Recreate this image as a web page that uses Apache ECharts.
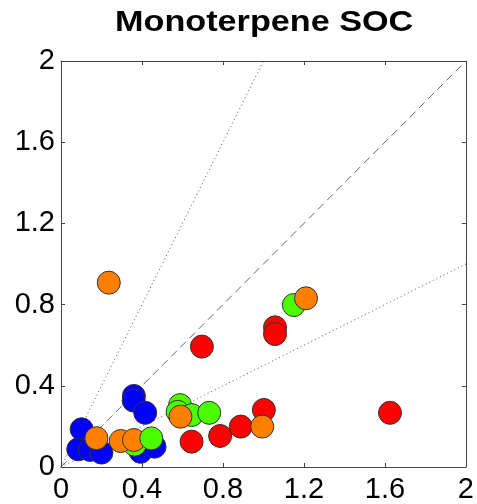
<!DOCTYPE html>
<html><head><meta charset="utf-8">
<script src="https://cdn.jsdelivr.net/npm/echarts@6/dist/echarts.min.js"></script>
<style>html,body{margin:0;padding:0;background:#fff}#c{width:477px;height:504px}</style>
</head><body><div id="c"></div>
<script>
const titleText = "Monoterpene SOC";
const xTicks = [0, 0.4, 0.8, 1.2, 1.6, 2];
const yTicks = [0, 0.4, 0.8, 1.2, 1.6, 2];
const blueX = [0.360, 0.359, 0.416, 0.102, 0.085, 0.143, 0.200, 0.393, 0.462];
const blueY = [0.350, 0.327, 0.267, 0.186, 0.087, 0.084, 0.071, 0.075, 0.100];
const redX = [0.696, 1.057, 1.057, 0.645, 0.786, 0.888, 1.002, 1.625];
const redY = [0.593, 0.688, 0.655, 0.125, 0.153, 0.199, 0.281, 0.267];
const greenX = [1.150, 0.588, 0.576, 0.645, 0.732, 0.364];
const greenY = [0.798, 0.305, 0.272, 0.256, 0.267, 0.110];
const orangeX = [0.236, 1.210, 0.590, 0.175, 0.295, 0.360, 0.994];
const orangeY = [0.908, 0.831, 0.248, 0.142, 0.128, 0.133, 0.199];
const greenLateX = [0.446];
const greenLateY = [0.141];
const oneToOne = [[0, 0], [2, 2]];
const twoToOne = [[0, 0], [1, 2]];
const halfToOne = [[0, 0], [2, 1]];

const zip = (a, b) => a.map((v, i) => [v, b[i]]);
const chart = echarts.init(document.getElementById('c'));
const font = "'Liberation Sans', Arial, sans-serif";
const axisCommon = {
  type: 'value', min: 0, max: 2, interval: 0.4,
  axisLine: { show: true, onZero: false, lineStyle: { color: '#444', width: 1 } },
  axisTick: { show: true, inside: true, length: 4, lineStyle: { color: '#444' } },
  splitLine: { show: false }
};
function scat(xs, ys, color) {
  return {
    type: 'scatter', data: zip(xs, ys), symbolSize: 23,
    itemStyle: { color: color, borderColor: '#333', borderWidth: 1, opacity: 1 },
    xAxisIndex: 0, yAxisIndex: 0, silent: true, z: 3
  };
}
function ln(data, type, color) {
  return {
    type: 'line', data: data, symbol: 'none', silent: true, z: 2,
    lineStyle: { color: color, width: 1, type: type === 'dashed' ? [8, 5] : [1, 3] },
    xAxisIndex: 0, yAxisIndex: 0
  };
}
const lbl = { fontFamily: font, fontSize: 29, color: '#000' };
chart.setOption({
  animation: false,
  backgroundColor: '#fff',
  graphic: [{
    type: 'text', left: 115, top: 8, scaleX: 1.14, silent: true,
    style: { text: titleText, font: "bold 30px 'Liberation Sans', Arial, sans-serif", fill: '#000' }
  }],
  grid: { left: 61, top: 61, width: 407, height: 406 },
  xAxis: [
    Object.assign({}, axisCommon, { position: 'bottom',
      axisLabel: Object.assign({ margin: 8 }, lbl) }),
    Object.assign({}, axisCommon, { position: 'top', axisLabel: { show: false } })
  ],
  yAxis: [
    Object.assign({}, axisCommon, { position: 'left',
      axisLabel: Object.assign({ margin: 6 }, lbl) }),
    Object.assign({}, axisCommon, { position: 'right', axisLabel: { show: false } })
  ],
  series: [
    ln(oneToOne, 'dashed', '#666'),
    ln(twoToOne, 'dotted', '#555'),
    ln(halfToOne, 'dotted', '#555'),
    scat(blueX, blueY, '#0000ff'),
    scat(redX, redY, '#ff0000'),
    scat(greenX, greenY, '#4cff00'),
    scat(orangeX, orangeY, '#ff8000'),
    scat(greenLateX, greenLateY, '#4cff00')
  ]
});
</script></body></html>
